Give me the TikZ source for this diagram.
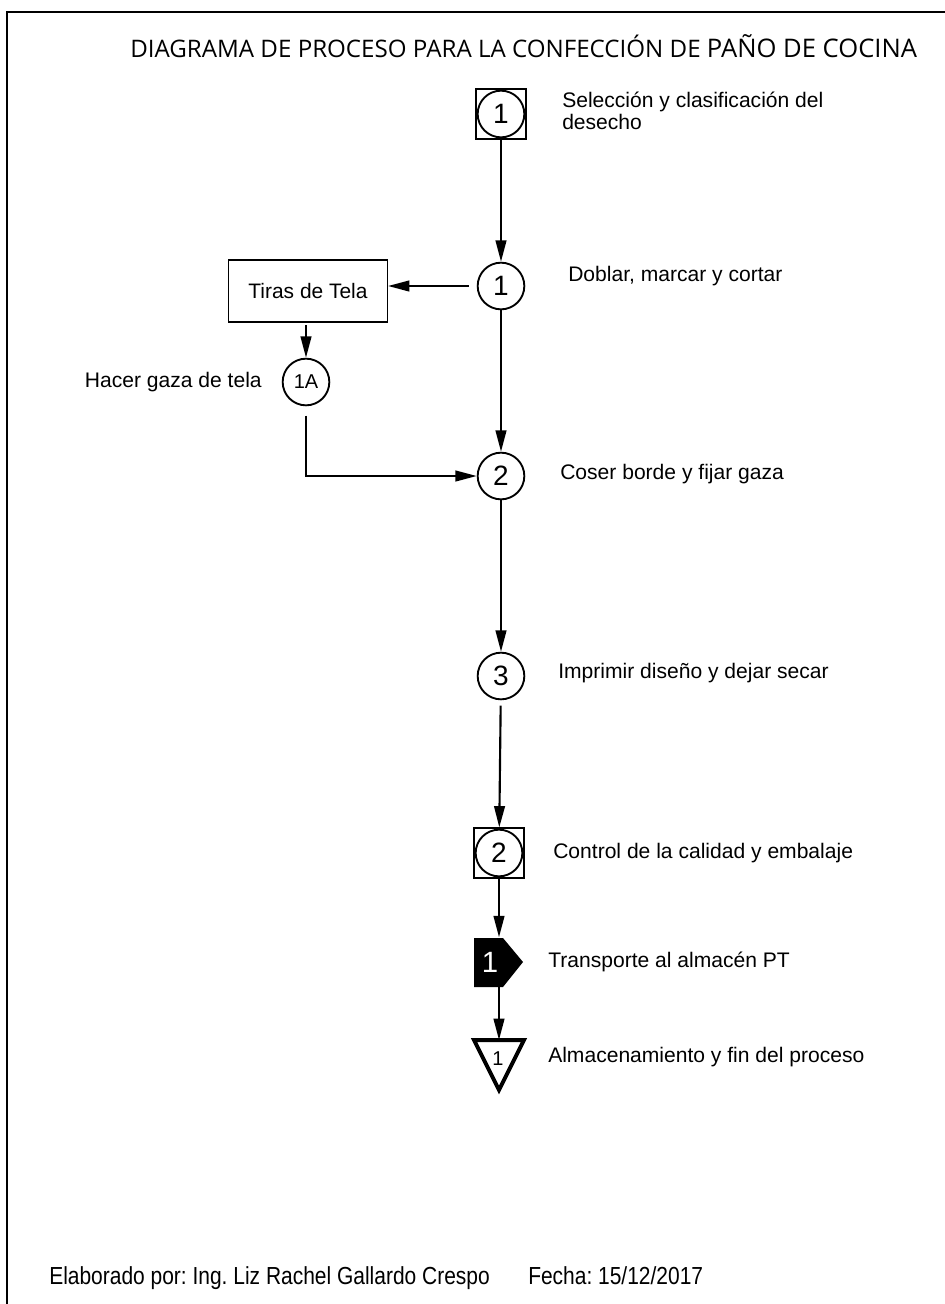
\documentclass[tikz,border=0pt]{standalone}
\usepackage{fontspec}
\setmainfont{Liberation Sans}
\newfontfamily\titlefont{Open Sans}
\newfontfamily\narrowfont[FakeStretch=0.85]{Liberation Sans}
\usetikzlibrary{arrows.meta}
\frenchspacing
\begin{document}
\begin{tikzpicture}[x=0.75pt,y=-0.75pt,
  conn/.style={line width=1.6pt,-{Triangle[length=16pt,width=8pt]}},
  opc/.style={circle,draw,line width=1.4pt,minimum size=35pt,inner sep=0pt,font=\fontsize{21}{21}\selectfont},
  insp/.style={rectangle,draw,line width=1.4pt,minimum size=37pt,inner sep=0pt},
  lbl/.style={anchor=west,font=\fontsize{15.8}{17}\selectfont,align=left,inner sep=0pt},
  foot/.style={anchor=base west,font=\narrowfont\fontsize{18.5}{20}\selectfont,inner sep=0pt},
]
\useasboundingbox (0,0) rectangle (945,1304);
\draw[line width=1.2pt] (945,12) -- (7,12) -- (7,1304);

\node[anchor=base west,inner sep=0pt,font=\titlefont\fontsize{18.1}{22}\selectfont] (title) at (130,57)
  {DIAGRAMA DE PROCESO PARA LA CONFECCIÓN DE {\fontsize{19.2}{22}\selectfont PAÑO DE COCINA}};

% main column
\node[insp] (s1) at (501,114) {};
\node[opc] (s1c) at (501,114) {1};
\node[opc] (o1) at (501,286) {1};
\node[draw,line width=1pt,minimum width=119pt,minimum height=46.5pt,inner sep=0pt,font=\fontsize{15.7}{17}\selectfont] (box) at (308,291) {Tiras de Tela};
\node[opc,font=\fontsize{15}{15}\selectfont] (o1a) at (306,382) {1A};
\node[opc] (o2) at (501,476) {2};
\node[opc] (o3) at (501,676) {3};
\node[insp] (s2) at (499,853) {};
\node[opc] (s2c) at (499,853) {2};
\node[minimum width=36.75pt,minimum height=36.75pt,inner sep=0pt] (t1) at (499,962) {};
\fill (474,938) -- (503,938) -- (523,962) -- (503,987) -- (474,987) -- cycle;
\node[text=white,font=\fontsize{22}{22}\selectfont] (t1n) at (490,962) {1};
\coordinate (tritop) at (499,1040);
\draw[line width=3pt,line join=miter] (474,1040) -- (524,1040) -- (499,1090) -- cycle;
\node[font=\fontsize{15}{15}\selectfont,inner sep=0pt] (tri) at (498,1059) {1};

% connectors
\draw[conn] (s1) -- (o1);
\draw[conn,shorten <=6pt] (o1.west) -- (o1.west -| box.east);
\draw[conn,shorten <=2pt] (box.south -| o1a) -- (o1a.north);
\draw[conn,shorten <=7pt] (o1a.south) |- (o2.west);
\draw[conn] (o1) -- (o2);
\draw[conn] (o2) -- (o3);
\draw[conn,shorten <=4pt] (o3) -- (s2);
\draw[conn] (s2) -- (t1);
\draw[conn] (t1.south) -- (tritop);

% labels
\node[lbl] (l1) at (562,111) {Selección y clasificación del\\desecho};
\node[lbl] (l2) at (568,276) {Doblar, marcar y cortar};
\node[lbl,anchor=east] (l1a) at (262,382) {Hacer gaza de tela};
\node[lbl] (l3) at (560,474) {Coser borde y fijar gaza};
\node[lbl] (l4) at (558,673) {Imprimir diseño y dejar secar};
\node[lbl] (l5) at (553,853) {Control de la calidad y embalaje};
\node[lbl] (l6) at (548,962) {Transporte al almacén PT};
\node[lbl] (l7) at (548,1057) {Almacenamiento y fin del proceso};

\node[foot] (f1) at (49,1284) {Elaborado por: Ing. Liz Rachel Gallardo Crespo};
\node[foot] (f2) at (528,1284) {Fecha: 15/12/2017};
\end{tikzpicture}
\end{document}
